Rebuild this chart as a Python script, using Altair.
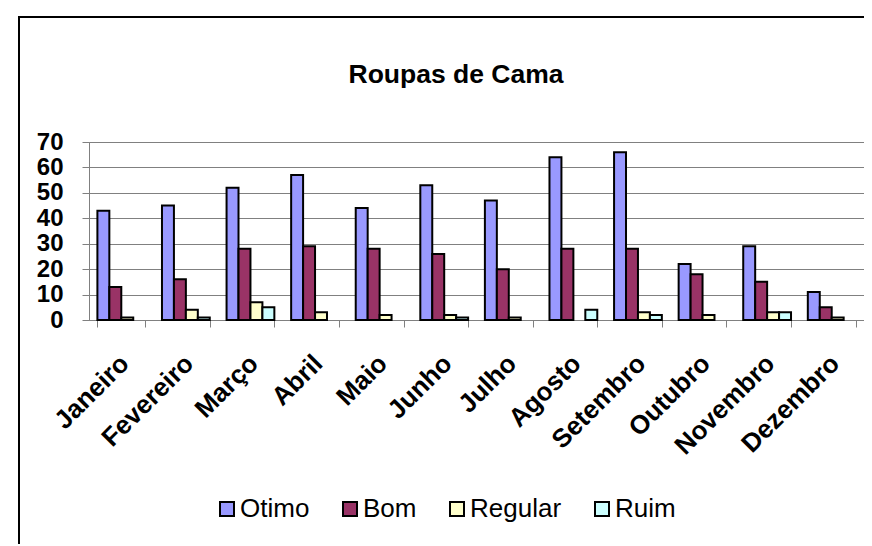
import altair as alt
import pandas as pd

months = ["Janeiro", "Fevereiro", "Março", "Abril", "Maio", "Junho",
          "Julho", "Agosto", "Setembro", "Outubro", "Novembro", "Dezembro"]
series = ["Otimo", "Bom", "Regular", "Ruim"]
otimo = [43, 45, 52, 57, 44, 53, 47, 64, 66, 22, 29, 11]
bom = [13, 16, 28, 29, 28, 26, 20, 28, 28, 18, 15, 5]
regular = [1, 4, 7, 3, 2, 2, 1, 0, 3, 2, 3, 1]
ruim = [0, 1, 5, 0, 0, 1, 0, 4, 2, 0, 3, 0]
colors = ["#9999FF", "#993366", "#FFFFCC", "#CCFFFF"]
title_text = "Roupas de Cama"
y_ticks = [0, 10, 20, 30, 40, 50, 60, 70]

rows = []
for name, vals in zip(series, [otimo, bom, regular, ruim]):
    for m, v in zip(months, vals):
        rows.append({"Mes": m, "Serie": name, "Valor": v})
df = pd.DataFrame(rows)

FONT = "Liberation Sans"
GRAY = "#808080"

bars = alt.Chart(df).transform_filter("datum.Valor > 0").mark_bar(
    stroke="black", strokeWidth=2, opacity=1
).encode(
    x=alt.X("Mes:N", sort=months,
            scale=alt.Scale(paddingInner=0.26, paddingOuter=0.13),
            axis=alt.Axis(title=None, labelAngle=-45, labelAlign="right",
                          labelBaseline="middle", labelFont=FONT,
                          labelFontSize=26, labelFontWeight="bold",
                          labelColor="black", labelPadding=32, labelOffset=3,
                          tickBand="extent", tickSize=7, tickColor=GRAY,
                          domainColor=GRAY, grid=False)),
    xOffset=alt.XOffset("Serie:N", sort=series,
                        scale=alt.Scale(paddingInner=0, paddingOuter=0)),
    y=alt.Y("Valor:Q", scale=alt.Scale(domain=[0, 70], nice=False),
            axis=alt.Axis(title=None, values=y_ticks, labelFont=FONT,
                          labelFontSize=24, labelFontWeight="bold",
                          labelColor="black", labelPadding=19, tickSize=7,
                          tickColor=GRAY, domainColor=GRAY, gridColor=GRAY,
                          gridWidth=1, gridOpacity=1)),
    color=alt.Color("Serie:N", sort=series,
                    scale=alt.Scale(domain=series, range=colors),
                    legend=alt.Legend(title=None, orient="none", legendX=125,
                                      legendY=354, direction="horizontal",
                                      symbolType="square", symbolSize=196,
                                      symbolStrokeColor="black",
                                      symbolStrokeWidth=2, symbolOpacity=1,
                                      labelFont=FONT, labelFontSize=26,
                                      labelColor="black", labelOffset=0,
                                      columnPadding=27, padding=0)),
)

one = pd.DataFrame({"t": [title_text]})

frame_left = alt.Chart(one).mark_rule(color="black", strokeWidth=2).encode(
    x=alt.value(-70), y=alt.value(-125), y2=alt.value(420))
frame_top = alt.Chart(one).mark_rule(color="black", strokeWidth=2).encode(
    x=alt.value(-71), x2=alt.value(900), y=alt.value(-125))

title = alt.Chart(one).mark_text(
    font=FONT, fontSize=26.5, fontWeight="bold", color="black",
    align="center", baseline="alphabetic"
).encode(x=alt.value(367), y=alt.value(-59), text="t:N")

chart = alt.layer(bars, frame_left, frame_top, title).properties(
    width=775, height=178,
    autosize=alt.AutoSizeParams(type="none"),
    padding={"left": 81, "top": 134, "right": 0, "bottom": 224},
).configure_view(stroke=GRAY, strokeWidth=1)

chart.save("out.html", embed_options={"renderer": "svg", "actions": False})
